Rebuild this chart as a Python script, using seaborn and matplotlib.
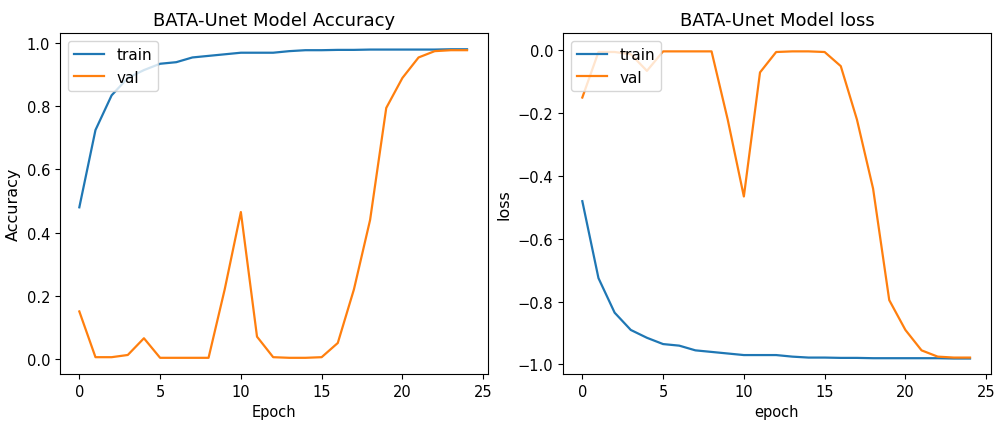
import numpy as np
import pandas as pd
import matplotlib
matplotlib.use('Agg')
import matplotlib.pyplot as plt
import seaborn as sns

epochs = list(range(25))

train_acc = [0.48, 0.725, 0.835, 0.89, 0.915, 0.935, 0.94, 0.955, 0.96, 0.965,
             0.97, 0.97, 0.97, 0.975, 0.978, 0.978, 0.979, 0.979, 0.98, 0.98,
             0.98, 0.98, 0.98, 0.981, 0.981]
val_acc = [0.15, 0.005, 0.005, 0.012, 0.065, 0.003, 0.003, 0.003, 0.003, 0.22,
           0.465, 0.07, 0.005, 0.003, 0.003, 0.005, 0.05, 0.22, 0.44, 0.795,
           0.89, 0.955, 0.975, 0.978, 0.978]

train_loss = [-0.48, -0.725, -0.835, -0.89, -0.915, -0.935, -0.94, -0.955, -0.96, -0.965,
              -0.97, -0.97, -0.97, -0.975, -0.978, -0.978, -0.979, -0.979, -0.98, -0.98,
              -0.98, -0.98, -0.98, -0.981, -0.981]
val_loss = [-0.15, -0.005, -0.005, -0.012, -0.065, -0.003, -0.003, -0.003, -0.003, -0.22,
            -0.465, -0.07, -0.005, -0.003, -0.003, -0.005, -0.05, -0.22, -0.44, -0.795,
            -0.89, -0.955, -0.975, -0.978, -0.978]

plt.rcParams['font.family'] = ['DejaVu Sans']
plt.rcParams['font.size'] = 11

fig, axes = plt.subplots(1, 2, figsize=(9.99, 4.27), dpi=100)
fig.subplots_adjust(left=0.06, right=0.992, top=0.92, bottom=0.122, wspace=0.175)

blue = '#1f77b4'
orange = '#ff7f0e'

ax = axes[0]
sns.lineplot(x=epochs, y=train_acc, ax=ax, color=blue, label='train', linewidth=1.6)
sns.lineplot(x=epochs, y=val_acc, ax=ax, color=orange, label='val', linewidth=1.6)
ax.set_title('BATA-Unet Model Accuracy', fontsize=13)
ax.set_xlabel('Epoch', fontsize=10.5)
ax.set_ylabel('Accuracy', fontsize=11.5)
ax.set_xticks([0, 5, 10, 15, 20, 25])
ax.set_xlim(-1.2, 25.3)
ax.set_ylim(-0.048, 1.032)
ax.legend(loc='upper left', fontsize=11)

ax = axes[1]
sns.lineplot(x=epochs, y=train_loss, ax=ax, color=blue, label='train', linewidth=1.6)
sns.lineplot(x=epochs, y=val_loss, ax=ax, color=orange, label='val', linewidth=1.6)
ax.set_title('BATA-Unet Model loss', fontsize=13)
ax.set_xlabel('epoch', fontsize=10.5)
ax.set_ylabel('loss', fontsize=11.5)
ax.set_xticks([0, 5, 10, 15, 20, 25])
ax.set_xlim(-1.2, 25.3)
ax.set_ylim(-1.03, 0.055)
ax.legend(loc='upper left', fontsize=11)

for a in axes:
    a.tick_params(labelsize=10.5)

fig.savefig('out.png', dpi=100)
